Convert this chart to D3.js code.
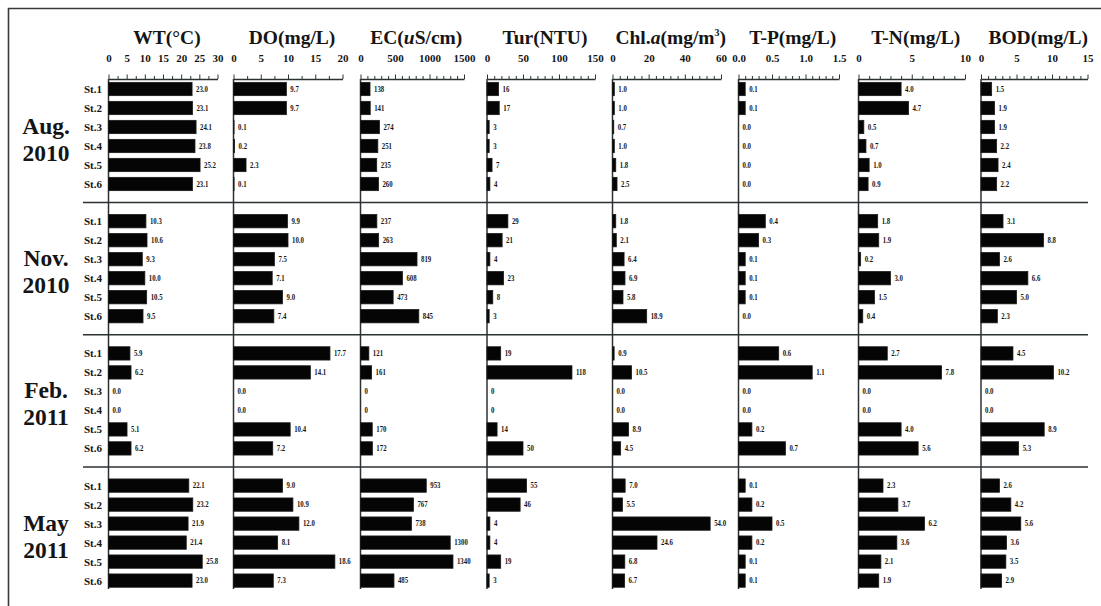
<!DOCTYPE html>
<html>
<head>
<meta charset="utf-8">
<script src="https://cdn.jsdelivr.net/npm/d3@7"></script>
<style>
  html, body { margin: 0; padding: 0; background: #ffffff; }
  svg { display: block; font-family: "Liberation Serif", "Times New Roman", serif; }
</style>
</head>
<body>
<svg id="chart" width="1101" height="606"></svg>
<script>
// ---- data ----
const stations = ["St.1", "St.2", "St.3", "St.4", "St.5", "St.6"];
const periodMonth = ["Aug.", "Nov.", "Feb.", "May"];
const periodYear = ["2010", "2010", "2011", "2011"];
const variables = ["WT", "DO", "EC", "Tur", "Chl.a", "T-P", "T-N", "BOD"];

// one row per sampling period, one value per station
const wt = [
  [23.0, 23.1, 24.1, 23.8, 25.2, 23.1],
  [10.3, 10.6, 9.3, 10.0, 10.5, 9.5],
  [5.9, 6.2, 0.0, 0.0, 5.1, 6.2],
  [22.1, 23.2, 21.9, 21.4, 25.8, 23.0]
];
const dissolvedOxygen = [
  [9.7, 9.7, 0.1, 0.2, 2.3, 0.1],
  [9.9, 10.0, 7.5, 7.1, 9.0, 7.4],
  [17.7, 14.1, 0.0, 0.0, 10.4, 7.2],
  [9.0, 10.9, 12.0, 8.1, 18.6, 7.3]
];
const ec = [
  [138, 141, 274, 251, 235, 260],
  [237, 263, 819, 608, 473, 845],
  [121, 161, 0, 0, 170, 172],
  [953, 767, 738, 1300, 1340, 485]
];
const tur = [
  [16, 17, 3, 3, 7, 4],
  [29, 21, 4, 23, 8, 3],
  [19, 118, 0, 0, 14, 50],
  [55, 46, 4, 4, 19, 3]
];
const chla = [
  [1.0, 1.0, 0.7, 1.0, 1.8, 2.5],
  [1.8, 2.1, 6.4, 6.9, 5.8, 18.9],
  [0.9, 10.5, 0.0, 0.0, 8.9, 4.5],
  [7.0, 5.5, 54.0, 24.6, 6.8, 6.7]
];
const tp = [
  [0.1, 0.1, 0.0, 0.0, 0.0, 0.0],
  [0.4, 0.3, 0.1, 0.1, 0.1, 0.0],
  [0.6, 1.1, 0.0, 0.0, 0.2, 0.7],
  [0.1, 0.2, 0.5, 0.2, 0.1, 0.1]
];
const tn = [
  [4.0, 4.7, 0.5, 0.7, 1.0, 0.9],
  [1.8, 1.9, 0.2, 3.0, 1.5, 0.4],
  [2.7, 7.8, 0.0, 0.0, 4.0, 5.6],
  [2.3, 3.7, 6.2, 3.6, 2.1, 1.9]
];
const bod = [
  [1.5, 1.9, 1.9, 2.2, 2.4, 2.2],
  [3.1, 8.8, 2.6, 6.6, 5.0, 2.3],
  [4.5, 10.2, 0.0, 0.0, 8.9, 5.3],
  [2.6, 4.2, 5.6, 3.6, 3.5, 2.9]
];
const seriesByVariable = [wt, dissolvedOxygen, ec, tur, chla, tp, tn, bod];

// axis settings per variable
const axisMax = [30, 20, 1500, 150, 60, 1.5, 10, 15];
const majorStep = [5, 5, 500, 50, 20, 0.5, 5, 5];
const minorStep = [2.5, 2.5, 100, 10, 4, 0.1, 1, 1];
const tickDecimals = [0, 0, 0, 0, 0, 1, 0, 0];
const valueDecimals = [1, 1, 0, 0, 1, 1, 1, 1];

// column headings (text runs: [text, style])
const titleRuns = [
  [["WT(°C)"]],
  [["DO(mg/L)"]],
  [["EC("], ["u", "italic"], ["S/cm)"]],
  [["Tur(NTU)"]],
  [["Chl."], ["a", "italic"], ["(mg/m"], ["3", "sup"], [")"]],
  [["T-P(mg/L)"]],
  [["T-N(mg/L)"]],
  [["BOD(mg/L)"]]
];

// ---- layout ----
const colX0 = [108.5, 233.5, 360.5, 487, 612.5, 738.5, 858.5, 981];
const colW = [109, 109, 103.5, 108, 108.5, 100.5, 106.5, 106.5];
const axisY = 79;
const plotBottom = 589;
const ink = "#151515";
const lineColor = "#2c3234";

const svg = d3.select("#chart");

const groupBand = d3.scaleBand()
  .domain(d3.range(periodMonth.length))
  .range([79.5, 590.1])
  .paddingInner(0.1377)
  .paddingOuter(0);

const stationBand = d3.scaleBand()
  .domain(stations)
  .range([0, groupBand.bandwidth()])
  .paddingInner(0.3)
  .paddingOuter(0.15);

// outer frame (left and top edges)
svg.append("path")
  .attr("d", "M8.5,606 V8.5 H1101")
  .attr("fill", "none")
  .attr("stroke", "#3a3a3a")
  .attr("stroke-width", 1.6);

// separators between sampling periods
for (let g = 1; g < periodMonth.length; g++) {
  const yPrevEnd = groupBand(g - 1) + groupBand.bandwidth();
  const ySep = (yPrevEnd + groupBand(g)) / 2;
  svg.append("line")
    .attr("x1", 83).attr("x2", 1088)
    .attr("y1", ySep).attr("y2", ySep)
    .attr("stroke", lineColor)
    .attr("stroke-width", 1.5);
}

// period labels and station labels
periodMonth.forEach((m, g) => {
  const gc = groupBand(g) + groupBand.bandwidth() / 2;
  const lab = svg.append("text")
    .attr("text-anchor", "middle")
    .attr("font-weight", "bold")
    .attr("font-size", 23.5)
    .attr("fill", ink);
  lab.append("tspan").attr("x", 46).attr("y", gc - 2.5).text(m);
  lab.append("tspan").attr("x", 46).attr("y", gc + 24.5).text(periodYear[g]);

  stations.forEach(s => {
    svg.append("text")
      .attr("x", 84)
      .attr("y", groupBand(g) + stationBand(s) + stationBand.bandwidth() / 2)
      .attr("dominant-baseline", "central")
      .attr("font-weight", "bold")
      .attr("font-size", 11)
      .attr("fill", ink)
      .text(s);
  });
});

// one column of bars per variable
variables.forEach((name, c) => {
  const x = d3.scaleLinear()
    .domain([0, axisMax[c]])
    .range([colX0[c], colX0[c] + colW[c]]);

  const nTicks = Math.round(axisMax[c] / minorStep[c]);
  const tickVals = d3.range(nTicks + 1).map(i => +(i * minorStep[c]).toFixed(6));
  const isMajor = v => Math.abs(v / majorStep[c] - Math.round(v / majorStep[c])) < 1e-6;
  const tickFmt = d3.format("." + tickDecimals[c] + "f");

  const axisG = svg.append("g")
    .attr("transform", `translate(0,${axisY})`)
    .call(d3.axisTop(x)
      .tickValues(tickVals)
      .tickSizeInner(4.5)
      .tickSizeOuter(0)
      .tickPadding(13)
      .tickFormat(v => isMajor(v) ? tickFmt(v) : ""));
  axisG.select(".domain").attr("stroke", lineColor).attr("stroke-width", 1.4);
  axisG.selectAll(".tick line")
    .attr("stroke", lineColor)
    .attr("stroke-width", 1)
    .attr("y2", v => isMajor(v) ? -4.5 : -3);
  axisG.selectAll(".tick text")
    .attr("font-family", "\"Liberation Serif\", \"Times New Roman\", serif")
    .attr("font-weight", "bold")
    .attr("font-size", 11)
    .attr("fill", ink);

  // heading
  const cx = colX0[c] + colW[c] / 2 + 4;
  const title = svg.append("text")
    .attr("x", cx).attr("y", 44)
    .attr("text-anchor", "middle")
    .attr("font-weight", "bold")
    .attr("font-size", 19.5)
    .attr("fill", ink);
  let lifted = false;
  titleRuns[c].forEach(([t, style]) => {
    const ts = title.append("tspan").text(t);
    if (style === "italic") ts.attr("font-style", "italic");
    if (style === "sup") {
      ts.attr("font-size", 10).attr("dy", -8);
      lifted = true;
    } else if (lifted) {
      ts.attr("dy", 8);
      lifted = false;
    }
  });

  // zero line running down through all periods
  svg.append("line")
    .attr("x1", x(0)).attr("x2", x(0))
    .attr("y1", axisY).attr("y2", plotBottom)
    .attr("stroke", lineColor)
    .attr("stroke-width", 1.5);

  const valFmt = d3.format("." + valueDecimals[c] + "f");
  seriesByVariable[c].forEach((row, g) => {
    const gy = groupBand(g);
    const rows = stations.map((s, i) => ({ s, v: row[i] }));

    svg.append("g").selectAll("rect")
      .data(rows)
      .join("rect")
      .attr("x", x(0))
      .attr("y", d => gy + stationBand(d.s))
      .attr("width", d => x(d.v) - x(0))
      .attr("height", stationBand.bandwidth())
      .attr("fill", "#050505")
      .attr("stroke", "#1a1a1a")
      .attr("stroke-width", 0.8);

    svg.append("g").selectAll("text")
      .data(rows)
      .join("text")
      .attr("transform", d =>
        `translate(${x(d.v) + 4},${gy + stationBand(d.s) + stationBand.bandwidth() / 2}) scale(0.8,1)`)
      .attr("dominant-baseline", "central")
      .attr("font-weight", "bold")
      .attr("font-size", 8.5)
      .attr("fill", ink)
      .text(d => valFmt(d.v));
  });
});
</script>
</body>
</html>
